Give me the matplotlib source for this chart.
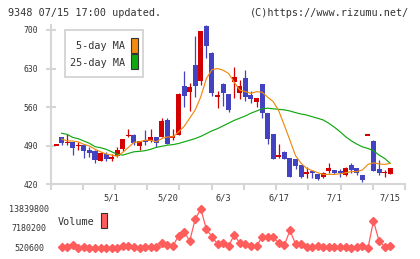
import numpy as np
import matplotlib
matplotlib.use('Agg')
import matplotlib.pyplot as plt
from matplotlib.patches import Rectangle
import matplotlib.transforms as mtransforms

# daily candles, 61 trading days ending 7/15
opens = [490, 505, 495, 497, 489, 491, 482, 480, 463, 475,
         466, 471, 484, 507, 509, 490, 500, 499, 505, 506,
         537, 504, 509, 598, 588, 636, 607, 707, 659, 578,
         602, 584, 606, 586, 612, 582, 570, 602, 550, 511,
         470, 479, 468, 466, 455, 439, 445, 439, 433, 445,
         446, 445, 437, 455, 449, 437, 508, 499, 447, 440, 439]
highs = [490, 506, 511, 497, 497, 494, 488, 482, 479, 479,
         475, 488, 503, 520, 511, 499, 518, 521, 505, 540,
         540, 521, 585, 625, 604, 689, 699, 709, 660, 589,
         604, 584, 632, 609, 627, 589, 577, 602, 550, 511,
         494, 481, 468, 466, 455, 452, 446, 439, 443, 459,
         446, 448, 452, 458, 449, 437, 508, 500, 464, 446, 449]
lows = [490, 491, 492, 473, 483, 468, 470, 459, 463, 463,
        463, 470, 481, 506, 491, 483, 491, 497, 487, 506,
        494, 500, 509, 560, 553, 579, 600, 650, 580, 559,
        562, 552, 576, 575, 571, 567, 560, 541, 494, 465,
        467, 465, 434, 448, 431, 431, 431, 427, 431, 440,
        438, 433, 435, 440, 437, 424, 508, 444, 437, 434, 439]
closes = [490, 495, 497, 486, 492, 481, 476, 464, 477, 466,
          469, 483, 503, 509, 495, 499, 496, 505, 495, 535,
          494, 508, 584, 580, 597, 598, 698, 670, 586, 582,
          586, 554, 614, 598, 579, 575, 577, 550, 502, 466,
          473, 466, 434, 453, 433, 443, 441, 429, 440, 450,
          440, 441, 449, 446, 440, 427, 508, 445, 440, 442, 449]

ma5 = [np.nan, 502, 499, 498.5, 497, 492.5, 489.5, 483.5, 479, 475,
       473, 471, 478, 487, 496, 497, 500, 500, 497, 503,
       506, 506, 515, 525, 540, 555, 579, 612, 628, 630,
       627, 621, 605, 591, 588, 585, 588, 587, 578, 570,
       553, 527, 500, 472, 458, 449, 445, 441, 438, 438,
       438, 439, 441, 443, 443, 446, 456, 459, 457, 456, 458]
ma25 = [np.nan, 512.5, 510.7, 505, 502.7, 498.5, 494.4, 488.2, 486.4, 483.5,
        479, 474.4, 473, 476, 479, 479.8, 481, 483.5, 487, 489,
        491, 492, 494, 497, 500, 503, 507, 512, 517, 521,
        526, 531, 536, 540, 544, 549, 553, 557, 558, 557,
        556, 555, 553, 550, 547.5, 545.7, 542.6, 539.7, 536.6, 530.6,
        523.4, 515.4, 506.3, 499, 493, 488, 485, 481, 473, 467, 458]

volume = [860000, 860000, 1640000, 540000, 860000, 750000, 750000, 750000, 560000, 560000,
          750000, 1300000, 1400000, 1000000, 750000, 860000, 860000, 860000, 2200000, 1640000,
          1300000, 4800000, 6150000, 3000000, 10450000, 13839800, 6960000, 4450000, 1980000, 2200000,
          1400000, 5000000, 2300000, 1880000, 1300000, 1300000, 4300000, 4350000, 4350000, 2200000,
          1540000, 6600000, 1980000, 1880000, 1060000, 1060000, 1300000, 960000, 1060000, 960000,
          960000, 1060000, 540000, 960000, 1300000, 520600, 9770000, 3000000, 1060000, 1300000]

price_ticks = [420, 490, 560, 630, 700]
date_pos = [10, 20, 30, 40, 50, 60]
date_labels = ['5/1', '5/20', '6/3', '6/17', '7/1', '7/15']
vol_ticks = [520600, 7180200, 13839800]

W, H = 420, 259
RED = '#d20000'
BLUE = '#4343c2'
GRID = '#d6d6d6'
TXT = '#333333'
FONT = 'DejaVu Sans Mono'
plt.rcParams['font.family'] = FONT


def fx(px):
    return px / W


def fy(py):
    return 1 - py / H


fig = plt.figure(figsize=(W / 100, H / 100), dpi=100)
fig.patch.set_facecolor('white')

xlo, xhi = -0.99, 62.66
ax = fig.add_axes([fx(50.5), fy(184.3), (405 - 50.5) / W, (184.3 - 25) / H])
ax.set_xlim(xlo, xhi)
ax.set_ylim(420, 709)

o = np.array(opens, float)
c = np.array(closes, float)
idx = np.arange(len(o))
cols = np.where(c >= o, RED, BLUE)
ax.vlines(idx, lows, highs, colors=cols, lw=0.9, zorder=2)
ax.bar(idx, np.maximum(np.abs(c - o), 2.4), bottom=np.minimum(o, c),
       width=0.9, color=cols, linewidth=0, zorder=3)

ax.plot(idx, ma25, color='#10a810', lw=0.85, zorder=4)
ax.plot(idx, ma5, color='#f08a10', lw=0.85, zorder=4)

for s in ['top', 'right']:
    ax.spines[s].set_visible(False)
for s in ['left', 'bottom']:
    ax.spines[s].set_color(GRID)
    ax.spines[s].set_linewidth(1.5)

ax.set_yticks(price_ticks)
ax.tick_params(axis='y', direction='inout', length=7, width=1.5, color=GRID,
               pad=5.5, labelsize=5.8, labelcolor=TXT)
ax.set_xticks(np.linspace(xlo, xhi, 12))
ax.set_xticklabels([])
ax.tick_params(axis='x', direction='out', length=4, width=1.5, color=GRID)

trans = mtransforms.blended_transform_factory(ax.transData, ax.transAxes)
for p, lab in zip(date_pos, date_labels):
    ax.text(p, -0.086, lab, transform=trans, ha='center', va='center',
            fontsize=6.2, color=TXT)

# MA legend
fig.add_artist(Rectangle((fx(65), fy(77)), (143 - 65) / W, (77 - 30) / H,
                         transform=fig.transFigure, facecolor='white',
                         edgecolor='#cfcfcf', lw=1.2))
fig.text(fx(125), fy(46), '5-day MA', ha='right', va='center', fontsize=7.3, color=TXT)
fig.text(fx(125), fy(62.5), '25-day MA', ha='right', va='center', fontsize=7.3, color=TXT)
fig.add_artist(Rectangle((fx(131), fy(53)), 7 / W, 15 / H, transform=fig.transFigure,
                         facecolor='#f08a10', edgecolor='#333333', lw=0.8))
fig.add_artist(Rectangle((fx(131), fy(69)), 7 / W, 15 / H, transform=fig.transFigure,
                         facecolor='#10a810', edgecolor='#333333', lw=0.8))

# volume panel
vax = fig.add_axes([fx(50.5), fy(248.3), (405 - 50.5) / W, (248.3 - 209) / H])
vax.set_xlim(xlo, xhi)
vax.set_ylim(vol_ticks[0], vol_ticks[-1])
vax.axis('off')
vax.plot(np.arange(1, len(volume) + 1), volume, color='#ff5c5c', lw=0.9,
         marker='D', ms=3.6, mec='#ff5c5c', clip_on=False)
for v in vol_ticks:
    ypix = 248.3 - (v - vol_ticks[0]) / (vol_ticks[-1] - vol_ticks[0]) * (248.3 - 209)
    fig.text(fx(29), fy(ypix), str(v), ha='center', va='center', fontsize=6.0, color=TXT)

fig.text(fx(58), fy(222), 'Volume', ha='left', va='center', fontsize=7.3, color=TXT)
fig.add_artist(Rectangle((fx(101), fy(228)), 6 / W, 15 / H, transform=fig.transFigure,
                         facecolor='#ff5c5c', edgecolor='#333333', lw=0.8))

fig.text(fx(8), fy(13), '9348 07/15 17:00 updated.', ha='left', va='center',
         fontsize=7.3, color=TXT)
fig.text(fx(409), fy(13), '(C)https://www.rizumu.net/', ha='right', va='center',
         fontsize=7.3, color=TXT)

fig.savefig('out.png', dpi=100)
